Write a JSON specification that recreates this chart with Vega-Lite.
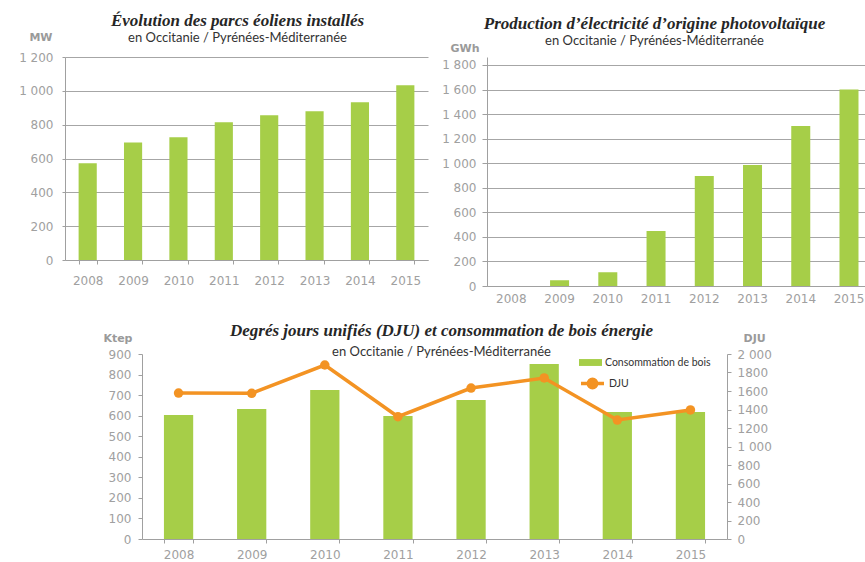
{
  "$schema": "https://vega.github.io/schema/vega-lite/v6.json",
  "padding": {"left": 18, "top": 12, "right": 0, "bottom": 0},
  "background": "white",
  "data": {"values": [
    {"year": "2008", "wind": 572, "pv": 0, "wood": 603, "dju": 1578},
    {"year": "2009", "wind": 694, "pv": 46, "wood": 632, "dju": 1575},
    {"year": "2010", "wind": 725, "pv": 112, "wood": 725, "dju": 1881},
    {"year": "2011", "wind": 814, "pv": 447, "wood": 598, "dju": 1322},
    {"year": "2012", "wind": 855, "pv": 896, "wood": 676, "dju": 1632},
    {"year": "2013", "wind": 879, "pv": 986, "wood": 851, "dju": 1741},
    {"year": "2014", "wind": 932, "pv": 1304, "wood": 618, "dju": 1286},
    {"year": "2015", "wind": 1033, "pv": 1600, "wood": 618, "dju": 1395}
  ]},
  "spacing": 18,
  "vconcat": [
    {
      "spacing": 13,
      "hconcat": [
        {
          "width": 363,
          "height": 203,
          "title": {"text": "Évolution des parcs éoliens installés", "subtitle": "en Occitanie / Pyrénées-Méditerranée", "dx": -9, "offset": -15, "subtitlePadding": 2},
          "mark": {"type": "bar", "color": "#a6ce48"},
          "encoding": {
            "x": {"field": "year", "type": "ordinal", "scale": {"paddingInner": 0.6, "paddingOuter": 0.3},
              "axis": {"title": null, "labelAngle": 0, "tickBand": "extent", "tickSize": 4, "labelPadding": 11, "grid": false}},
            "y": {"field": "wind", "type": "quantitative", "scale": {"domain": [0, 1200], "nice": false},
              "axis": {"values": [0, 200, 400, 600, 800, 1000, 1200], "title": "MW", "titleAngle": 0, "titleAlign": "right", "titleBaseline": "middle", "titleX": -13, "titleY": -20, "tickSize": 3, "labelPadding": 9, "grid": true,
                "labelExpr": "replace(format(datum.value, ','), ',', ' ')"}}
          }
        },
        {
          "width": 379,
          "height": 229,
          "title": {"text": "Production d’électricité d’origine photovoltaïque", "subtitle": "en Occitanie / Pyrénées-Méditerranée", "dx": -22, "offset": -7, "subtitlePadding": 2},
          "mark": {"type": "bar", "color": "#a6ce48"},
          "encoding": {
            "x": {"field": "year", "type": "ordinal", "scale": {"paddingInner": 0.606, "paddingOuter": 0.2315, "align": 0.664},
              "axis": {"title": null, "labelAngle": 0, "ticks": false, "labelPadding": 7, "grid": false}},
            "y": {"field": "pv", "type": "quantitative", "scale": {"domain": [0, 1865], "nice": false},
              "axis": {"values": [0, 200, 400, 600, 800, 1000, 1200, 1400, 1600, 1800], "title": "GWh", "titleAngle": 0, "titleAlign": "right", "titleBaseline": "middle", "titleX": -8, "titleY": -9, "tickSize": 5, "labelPadding": 6, "grid": true,
                "labelExpr": "replace(format(datum.value, ','), ',', ' ')"}}
          }
        }
      ]
    },
    {
      "spacing": 0,
      "hconcat": [
        {"width": 37, "height": 10, "mark": {"type": "point", "opacity": 0}},
        {
          "width": 585,
          "height": 185,
          "title": {"text": "Degrés jours unifiés (DJU) et consommation de bois énergie", "subtitle": "en Occitanie / Pyrénées-Méditerranée", "dx": 7, "offset": -28, "subtitlePadding": 6},
          "encoding": {
            "x": {"field": "year", "type": "ordinal", "scale": {"paddingInner": 0.6, "paddingOuter": 0.3},
              "axis": {"title": null, "labelAngle": 0, "tickBand": "extent", "tickSize": 4, "labelPadding": 6, "grid": false}}
          },
          "layer": [
            {
              "mark": {"type": "bar"},
              "encoding": {
                "y": {"field": "wood", "type": "quantitative", "scale": {"domain": [0, 900], "nice": false},
                  "axis": {"values": [0, 100, 200, 300, 400, 500, 600, 700, 800, 900], "title": "Ktep", "titleAngle": 0, "titleAlign": "right", "titleBaseline": "middle", "titleX": -10, "titleY": -16, "tickSize": 4, "labelPadding": 7, "grid": false}},
                "fill": {"datum": "Consommation de bois", "scale": {"range": ["#a6ce48"]},
                  "legend": {"orient": "none", "legendX": 514, "legendY": 294, "title": null, "padding": 0,
                    "symbolType": "M-1,-0.3H1V0.3H-1Z", "symbolSize": 529, "symbolStrokeWidth": 0,
                    "labelFont": "Lato", "labelFontSize": 10.5, "labelColor": "#333333", "labelOffset": 3}}
              }
            },
            {
              "layer": [
                {
                  "mark": {"type": "line", "strokeWidth": 3.5},
                  "encoding": {
                    "y": {"field": "dju", "type": "quantitative", "scale": {"domain": [0, 2000], "nice": false},
                      "axis": {"orient": "right", "values": [0, 200, 400, 600, 800, 1000, 1200, 1400, 1600, 1800, 2000], "title": "DJU", "titleAngle": 0, "titleAlign": "left", "titleBaseline": "middle", "titleX": 16, "titleY": -16, "tickSize": 4, "labelPadding": 6, "grid": false,
                        "labelExpr": "datum.value >= 1000 && datum.value % 1000 == 0 ? replace(format(datum.value, ','), ',', ' ') : format(datum.value, 'd')"}},
                    "stroke": {"datum": "DJU", "scale": {"range": ["#f39323"]},
                      "legend": {"orient": "none", "legendX": 514, "legendY": 313, "title": null, "padding": 0,
                        "symbolType": "M-1,0H1M0.36,0A0.36,0.36,0,1,1,-0.36,0A0.36,0.36,0,1,1,0.36,0Z", "symbolSize": 529,
                        "symbolFillColor": "#f39323", "symbolStrokeColor": "#f39323", "symbolStrokeWidth": 3.5,
                        "labelFont": "Lato", "labelFontSize": 10.5, "labelColor": "#333333", "labelOffset": 3}}
                  }
                },
                {
                  "mark": {"type": "point", "filled": true, "color": "#f39323", "size": 90, "opacity": 1},
                  "encoding": {
                    "y": {"field": "dju", "type": "quantitative", "scale": {"domain": [0, 2000], "nice": false},
                      "axis": {"orient": "right", "values": [0, 200, 400, 600, 800, 1000, 1200, 1400, 1600, 1800, 2000], "title": "DJU", "titleAngle": 0, "titleAlign": "left", "titleBaseline": "middle", "titleX": 16, "titleY": -16, "tickSize": 4, "labelPadding": 6, "grid": false,
                        "labelExpr": "datum.value >= 1000 && datum.value % 1000 == 0 ? replace(format(datum.value, ','), ',', ' ') : format(datum.value, 'd')"}}
                  }
                }
              ]
            }
          ],
          "resolve": {"scale": {"y": "independent"}}
        }
      ]
    }
  ],
  "config": {
    "view": {"stroke": null},
    "axis": {"labelFont": "DejaVu Sans", "labelFontSize": 12, "labelColor": "#a0a0a0", "domainColor": "#a0a0a0", "tickColor": "#a0a0a0", "gridColor": "#a6a6a6", "gridOpacity": 1, "titleFont": "DejaVu Sans", "titleFontWeight": "bold", "titleFontSize": 11, "titleColor": "#9a9a9a"},
    "title": {"font": "Liberation Serif", "fontStyle": "italic", "fontWeight": "bold", "fontSize": 17, "color": "#262626", "subtitleFont": "Lato", "subtitleFontSize": 13, "subtitleColor": "#333333", "anchor": "middle", "frame": "group"}
  }
}
